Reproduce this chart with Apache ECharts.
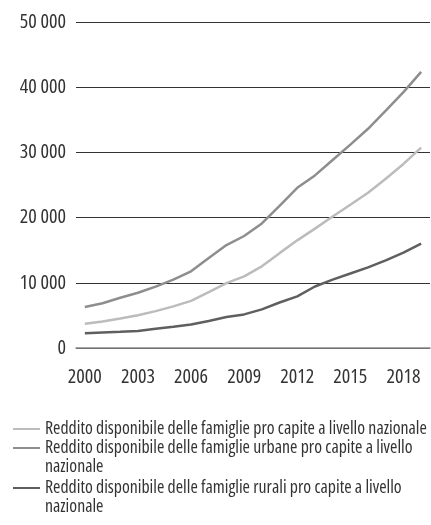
<!DOCTYPE html>
<html>
<head>
<meta charset="utf-8">
<script src="https://cdn.jsdelivr.net/npm/echarts@6/dist/echarts.min.js"></script>
<style>
html,body{margin:0;padding:0;background:#fff;}
#c{width:431px;height:525px;}
</style>
</head>
<body>
<div id="c"></div>
<script>
var years = ['2000','2001','2002','2003','2004','2005','2006','2007','2008','2009','2010','2011','2012','2013','2014','2015','2016','2017','2018','2019'];
var nazionale = [3720,4070,4530,5010,5660,6390,7230,8580,9960,10980,12520,14550,16510,18310,20170,21970,23820,25970,28230,30730];
var urbane = [6280,6860,7700,8470,9420,10490,11760,13790,15780,17180,19110,21810,24570,26470,28840,31200,33620,36400,39250,42360];
var rurali = [2250,2370,2480,2620,2940,3260,3590,4140,4760,5150,5920,6980,7920,9430,10490,11420,12360,13430,14620,16020];
var yTicks = {min: 0, max: 50000, interval: 10000};
var names = [
  'Reddito disponibile delle famiglie pro capite a livello nazionale',
  'Reddito disponibile delle famiglie urbane pro capite a livello\nnazionale',
  'Reddito disponibile delle famiglie rurali pro capite a livello\nnazionale'
];
var colors = ['#bcbcbc', '#8e8e8e', '#5f5f5f'];

var FONT = '"Open Sans", sans-serif';
var STRETCH = 'condensed';
var fmt = function (v) { return String(v).replace(/\B(?=(\d{3})+(?!\d))/g, ' '); };

var chart = echarts.init(document.getElementById('c'), null, {renderer: 'canvas'});
var LH = 18.5;
var ICON1 = 'path://M0 0H27V2H0Z';
var ICON2 = 'path://M0 0L0.05 0L0.05 0.05Z M0 8.3H27V10.3H0Z M26.95 37L27 37L27 36.95Z';
function legend(idx, top, twoLine) {
  return {
    show: true,
    orient: 'vertical',
    left: 13,
    top: top,
    itemWidth: 27,
    itemHeight: twoLine ? 2 * LH : 2,
    itemGap: 0,
    padding: 0,
    icon: twoLine ? ICON2 : ICON1,
    itemStyle: {color: colors[idx], borderWidth: 0},
    data: [names[idx]],
    selectedMode: false,
    textStyle: {fontFamily: FONT, fontWeight: STRETCH, fontSize: 17.8, color: '#333', lineHeight: LH, padding: [0, 0, 0, 0]}
  };
}
var makeSeries = function (i, data) {
  return {
    name: names[i], type: 'line', data: data, symbol: 'none',
    lineStyle: {color: colors[i], width: 2.5},
    itemStyle: {color: colors[i]},
    smooth: false
  };
};
chart.setOption({
  animation: false,
  textStyle: {fontFamily: FONT},
  grid: {left: 76, right: 1, top: 22, bottom: 177, containLabel: false},
  legend: [
    legend(0, 429 - LH / 2, false),
    legend(1, 448 - LH / 2, true),
    legend(2, 488 - LH / 2, true)
  ],
  xAxis: {
    type: 'category', data: years, boundaryGap: true,
    axisTick: {show: false},
    axisLine: {lineStyle: {color: '#888', width: 1.5}},
    axisLabel: {interval: 2, margin: 19, fontFamily: FONT, fontWeight: STRETCH, fontSize: 20, color: '#333'}
  },
  yAxis: {
    type: 'value', min: yTicks.min, max: yTicks.max, interval: yTicks.interval,
    axisLine: {show: false}, axisTick: {show: false},
    splitLine: {lineStyle: {color: '#333', width: 1}},
    axisLabel: {margin: 10, fontFamily: FONT, fontWeight: STRETCH, fontSize: 20, color: '#333', formatter: fmt}
  },
  series: [makeSeries(0, nazionale), makeSeries(1, urbane), makeSeries(2, rurali)]
});
</script>
</body>
</html>
